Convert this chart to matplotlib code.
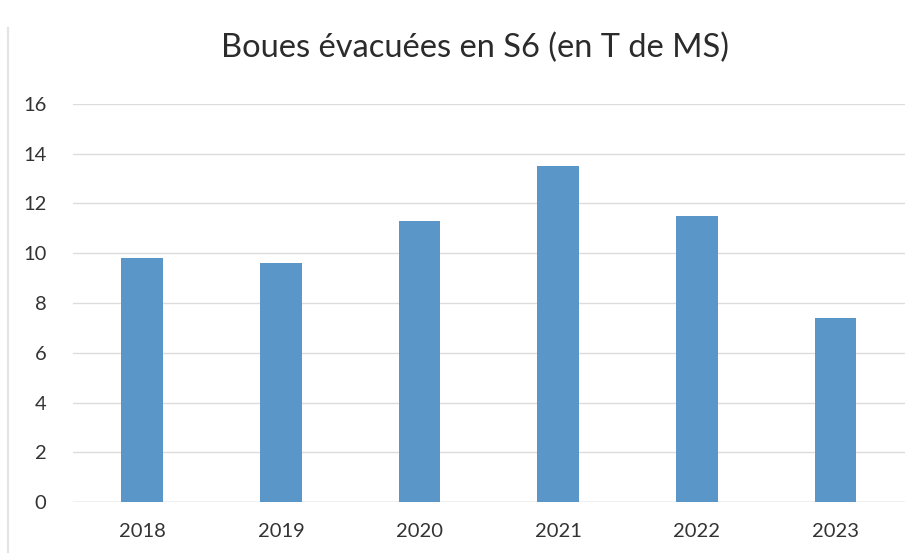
import matplotlib
matplotlib.use("Agg")
import matplotlib.pyplot as plt

years = ["2018", "2019", "2020", "2021", "2022", "2023"]
boues = [9.8, 9.6, 11.3, 13.5, 11.5, 7.4]
yticks = [0, 2, 4, 6, 8, 10, 12, 14, 16]

plt.rcParams['font.family'] = ['Lato', 'DejaVu Sans']

fig = plt.figure(figsize=(9.18, 5.53), dpi=100)
ax = fig.add_axes([0.0795, 0.0922, 0.906, 0.7198])

x = range(len(years))
ax.bar(x, boues, width=0.3, color='#5b96c9', zorder=3)

ax.set_xlim(-0.5, len(years) - 0.5)
ax.set_ylim(0, 16)
ax.set_yticks(yticks)
ax.set_xticks(list(x))
ax.set_xticklabels(years)
ax.grid(axis='y', color='#dcdcdc', linewidth=1, zorder=0)
for s in ax.spines.values():
    s.set_visible(False)
ax.axhline(0, color='#d4d4d4', linewidth=1, zorder=2)
ax.tick_params(length=0, labelsize=14.5, colors='#333333')
ax.tick_params(axis='x', pad=15)
ax.tick_params(axis='y', pad=19)

fig.text(0.517, 0.913, "Boues évacuées en S6 (en T de MS)", ha='center', va='center',
         fontsize=23.5, color='#2b2b2b')

# faint scan edge on the left
fig.add_artist(plt.Line2D([0.009, 0.009], [0.0, 0.95], color='#e3e3e3', linewidth=1.5))

fig.savefig("out.png", dpi=100)
